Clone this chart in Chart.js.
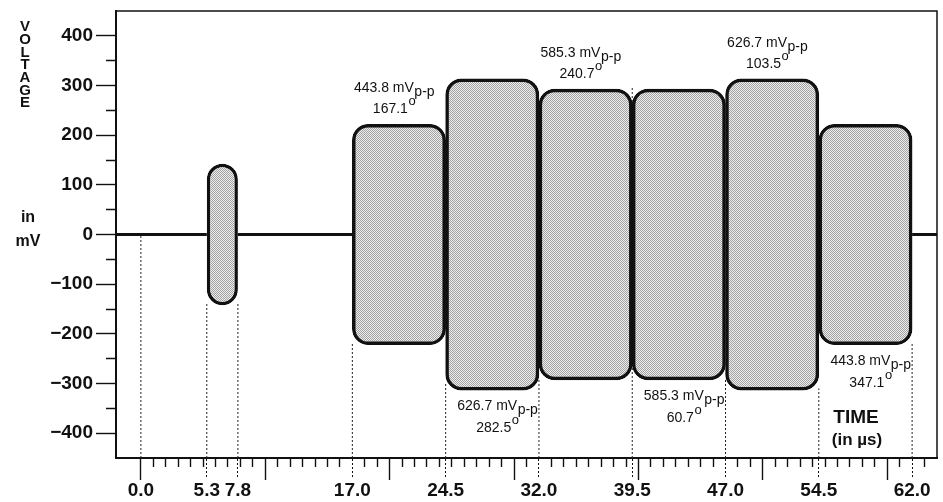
<!DOCTYPE html>
<html>
<head>
<meta charset="utf-8">
<script src="https://cdn.jsdelivr.net/npm/chart.js@4.4.1/dist/chart.umd.min.js"></script>
<style>
  html, body { margin: 0; padding: 0; background: #fff; }
  #wrap { width: 943px; height: 502px; }
</style>
</head>
<body>
<div id="wrap"><canvas id="burstChart" width="943" height="502"></canvas></div>
<script>
'use strict'

// bursts: start / end time (µs), peak-to-peak voltage (mV), phase (degrees)
var burstStart = [5.3, 17.0, 24.5, 32.0, 39.5, 47.0, 54.5]
var burstEnd = [7.8, 24.5, 32.0, 39.5, 47.0, 54.5, 62.0]
var burstVpp = [285.0, 443.8, 626.7, 585.3, 585.3, 626.7, 443.8]
var burstPhase = [null, 167.1, 282.5, 240.7, 60.7, 103.5, 347.1]
var labelSide = [null, 'top', 'bottom', 'top', 'bottom', 'top', 'bottom']

// labelled time ticks, and how high the dotted guide climbs at each one (mV)
var timeTicks = [0.0, 5.3, 7.8, 17.0, 24.5, 32.0, 39.5, 47.0, 54.5, 62.0]
var guideTop = [0, -140, -140, -220, -300, -290, 295, -290, -310, -220]

// labelled voltage ticks
var voltTicks = [-400, -300, -200, -100, 0, 100, 200, 300, 400]

var X_MIN = -2, X_MAX = 64, Y_MIN = -450, Y_MAX = 450
var FONT = "'Liberation Sans', Arial, Helvetica, sans-serif"
var INK = '#111'

//------------------
//- STIPPLE FILL   -
//------------------
function stipple() {
    var c = document.createElement('canvas')
    c.width = 2
    c.height = 2
    var g = c.getContext('2d')
    g.fillStyle = '#ededed'
    g.fillRect(0, 0, 2, 2)
    g.fillStyle = '#a2a2a2'
    g.fillRect(0, 0, 1, 1)
    g.fillRect(1, 1, 1, 1)
    return g.createPattern(c, 'repeat')
}
var fill = stipple()

var centers = burstStart.map(function (s, i) { return (s + burstEnd[i]) / 2 })
var minGap = Infinity
for (var i = 1; i < centers.length; i++) {
    minGap = Math.min(minGap, centers[i] - centers[i - 1])
}

// one floating bar per burst, width taken from its start/end time
var burstSets = burstStart.map(function (s, i) {
    return {
        type: 'bar',
        xAxisID: 'xb',
        data: [{ x: centers[i], y: [-burstVpp[i] / 2, burstVpp[i] / 2] }],
        backgroundColor: fill,
        borderColor: INK,
        borderWidth: 3.5,
        borderRadius: 16,
        borderSkipped: false,
        grouped: false,
        categoryPercentage: 1,
        barPercentage: (burstEnd[i] - s) / minGap,
        order: 0
    }
})

// zero line between the bursts
var baseline = []
var prevEnd = X_MIN
burstStart.forEach(function (s, i) {
    if (s > prevEnd) {
        baseline.push({ x: prevEnd, y: 0 }, { x: s, y: 0 }, { x: s, y: null })
    }
    prevEnd = burstEnd[i]
})
if (prevEnd < X_MAX) baseline.push({ x: prevEnd, y: 0 }, { x: X_MAX, y: 0 })

// dotted guides up from the time axis
var guides = []
timeTicks.forEach(function (t, i) {
    guides.push({ x: t, y: Y_MIN }, { x: t, y: guideTop[i] }, { x: t, y: null })
})

//------------------
//- TEXT PLUGINS   -
//------------------
function drawScripted(ctx, main, script, cx, y, shift, mainFont, scriptFont) {
    ctx.font = mainFont
    var w1 = ctx.measureText(main).width
    ctx.font = scriptFont
    var w2 = ctx.measureText(script).width
    var x = cx - (w1 + w2) / 2
    ctx.font = mainFont
    ctx.fillText(main, x, y)
    ctx.font = scriptFont
    ctx.fillText(script, x + w1 + 0.5, y + shift)
}

var burstLabels = {
    id: 'burstLabels',
    afterDatasetsDraw: function (chart) {
        var ctx = chart.ctx
        var xs = chart.scales.xb
        var ys = chart.scales.y
        ctx.save()
        ctx.fillStyle = INK
        ctx.textBaseline = 'alphabetic'
        ctx.textAlign = 'left'
        burstPhase.forEach(function (ph, i) {
            if (ph === null) return
            var top = labelSide[i] === 'top'
            var cx = xs.getPixelForValue(centers[i]) + (top ? -5 : 5)
            var edge = ys.getPixelForValue(top ? burstVpp[i] / 2 : -burstVpp[i] / 2)
            var y1 = top ? edge - 32 : edge + 20
            var y2 = top ? edge - 11 : edge + 42
            // subscript p-p sits below the baseline
            drawScripted(ctx, burstVpp[i].toFixed(1) + ' mV', 'p-p', cx, y1, 4,
                '14px ' + FONT, '14px ' + FONT)
            // degree mark "o" sits above the digits
            drawScripted(ctx, ph.toFixed(1), 'o', cx, y2, -8,
                '14px ' + FONT, '13px ' + FONT)
        })
        ctx.restore()
    }
}

var axisTitles = {
    id: 'axisTitles',
    afterDraw: function (chart) {
        var ctx = chart.ctx
        var area = chart.chartArea
        ctx.save()
        ctx.fillStyle = INK
        ctx.textAlign = 'center'
        ctx.textBaseline = 'middle'
        ctx.font = 'bold 15px ' + FONT
        'VOLTAGE'.split('').forEach(function (ch, k) {
            ctx.fillText(ch, 25, 27 + k * 12.7)
        })
        ctx.font = 'bold 16px ' + FONT
        ctx.fillText('in', 28, 218)
        ctx.fillText('mV', 28, 242)

        ctx.textBaseline = 'alphabetic'
        ctx.font = 'bold 19px ' + FONT
        ctx.fillText('TIME', area.right - 81, area.bottom - 35)
        ctx.font = 'bold 17px ' + FONT
        ctx.fillText('(in \u00b5s)', area.right - 80, area.bottom - 13)

        // frame: top and right edges
        ctx.strokeStyle = INK
        ctx.lineWidth = 1.5
        ctx.beginPath()
        ctx.moveTo(area.left, area.top)
        ctx.lineTo(area.right, area.top)
        ctx.lineTo(area.right, area.bottom)
        ctx.stroke()
        ctx.restore()
    }
}

//------------------
//- CHART          -
//------------------
var canvas = document.getElementById('burstChart').getContext('2d')

new Chart(canvas, {
    type: 'line',
    data: {
        datasets: burstSets.concat([{
            type: 'line',
            xAxisID: 'x',
            data: baseline,
            borderColor: INK,
            borderWidth: 3,
            pointRadius: 0,
            order: 1
        }, {
            type: 'line',
            xAxisID: 'x',
            data: guides,
            borderColor: '#222',
            borderWidth: 1,
            borderDash: [2, 2],
            pointRadius: 0,
            order: 2
        }])
    },
    options: {
        responsive: false,
        animation: false,
        layout: { padding: { top: 11, right: 6, left: 0, bottom: 0 } },
        plugins: {
            legend: { display: false },
            tooltip: { enabled: false }
        },
        scales: {
            x: {
                type: 'linear',
                min: X_MIN,
                max: X_MAX,
                offset: false,
                afterBuildTicks: function (axis) {
                    var vals = []
                    for (var v = 0; v < X_MAX; v++) vals.push(v)
                    timeTicks.forEach(function (t) {
                        if (vals.indexOf(t) < 0) vals.push(t)
                    })
                    vals.sort(function (a, b) { return a - b })
                    axis.ticks = vals.map(function (v) { return { value: v } })
                },
                afterFit: function (axis) {
                    axis.height = 44
                    axis.paddingLeft = 0
                    axis.paddingRight = 0
                },
                ticks: {
                    autoSkip: false,
                    maxRotation: 0,
                    padding: -1,
                    color: INK,
                    font: { family: FONT, size: 19, weight: 'bold' },
                    callback: function (v) {
                        return timeTicks.indexOf(v) >= 0 ? v.toFixed(1) : ''
                    }
                },
                grid: {
                    drawOnChartArea: false,
                    offset: false,
                    tickLength: 22,
                    tickColor: INK,
                    tickWidth: function (c) {
                        return timeTicks.indexOf(c.tick.value) >= 0 && c.tick.value % 10 ? 1 : 1.4
                    },
                    tickBorderDash: function (c) {
                        var v = c.tick.value
                        if (v % 10 === 0) return []
                        if (timeTicks.indexOf(v) >= 0) return [2, 2, 2, 2, 2, 2, 2, 2, 2, 40]
                        return [8, 40]
                    }
                },
                border: { color: INK, width: 2 }
            },
            xb: {
                type: 'linear',
                min: X_MIN,
                max: X_MAX,
                offset: false,
                display: false,
                afterBuildTicks: function (axis) {
                    axis.ticks = [{ value: X_MIN }, { value: X_MAX }]
                }
            },
            y: {
                type: 'linear',
                min: Y_MIN,
                max: Y_MAX,
                afterBuildTicks: function (axis) {
                    var vals = []
                    voltTicks.forEach(function (v, k) {
                        vals.push(v)
                        if (k < voltTicks.length - 1) vals.push((v + voltTicks[k + 1]) / 2)
                    })
                    axis.ticks = vals.map(function (v) { return { value: v } })
                },
                afterFit: function (axis) {
                    axis.width = 116
                    axis.paddingTop = 0
                    axis.paddingBottom = 0
                },
                ticks: {
                    padding: 3,
                    color: INK,
                    font: { family: FONT, size: 19, weight: 'bold' },
                    callback: function (v) {
                        return voltTicks.indexOf(v) >= 0 ? String(v).replace('-', '\u2212') : ''
                    }
                },
                grid: {
                    drawOnChartArea: false,
                    tickLength: 20,
                    tickColor: INK,
                    tickWidth: 1.4,
                    tickBorderDash: function (c) {
                        return voltTicks.indexOf(c.tick.value) >= 0 ? [] : [0, 10, 10, 40]
                    }
                },
                border: { color: INK, width: 2 }
            }
        }
    },
    plugins: [burstLabels, axisTitles]
})
</script>
</body>
</html>
